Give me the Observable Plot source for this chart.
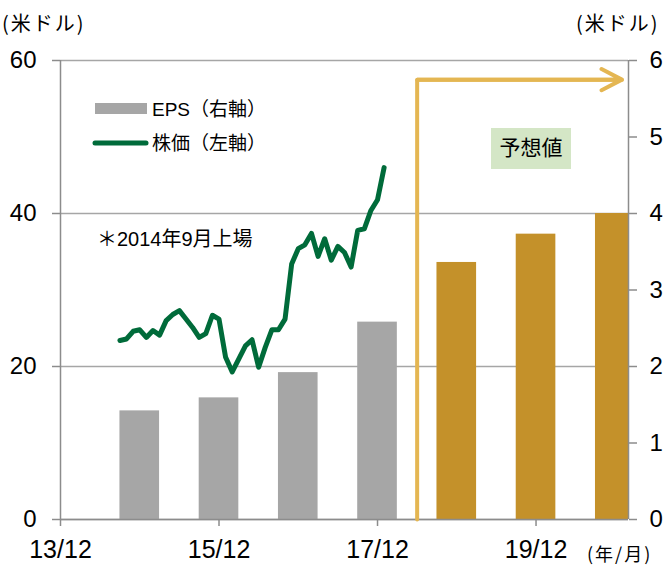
<!DOCTYPE html>
<html><head><meta charset="utf-8">
<script src="https://cdn.jsdelivr.net/npm/d3@7"></script>
<script src="https://cdn.jsdelivr.net/npm/@observablehq/plot@0.6"></script>
<style>body{margin:0;background:#fff} svg{display:block}</style>
</head><body><div id="chart"></div>
<script>
// ---- data ----
const years = ["14/12","15/12","16/12","17/12","18/12","19/12","20/12"];
const epsValues = [1.42,1.59,1.92,2.58,3.36,3.73,4.0];
const epsForecast = [false,false,false,false,true,true,true];
const priceStart = "14/09";
const priceValues = [23.4,23.6,24.6,24.8,23.8,24.7,24.1,26.0,26.8,27.3,26.2,25.1,23.8,24.3,26.7,26.2,21.2,19.3,21.0,22.7,23.5,19.9,22.5,24.8,24.8,26.2,33.4,35.4,35.9,37.4,34.4,36.7,33.9,35.7,34.9,33.0,37.8,38.0,40.4,41.8,46.0];
const xTickLabels = ["13/12","15/12","17/12","19/12"];
const leftTicks = [0,20,40,60];
const rightTicks = [0,1,2,3,4,5,6];
const forecastStart = "18/06";
const arrowEnd = "21/01";
const arrowLevel = 5.75; // right-axis units

// ---- helpers ----
const xOf = s => { const [yy,mm] = s.split("/").map(Number); return (2000+yy-2013)*12 + (mm-12); };
const eps = years.map((y,i)=>({x:xOf(y), eps:epsValues[i], forecast:epsForecast[i]}));
const price = priceValues.map((v,i)=>({x:xOf(priceStart)+i, price:v}));
const xTickPos = xTickLabels.map(xOf);
const ratio = 10; // left / right axis

const axisColor = "#8c8c8c", gridColor = "#a6a6a6";
const gray = "#a6a6a6", gold = "#c4912a", green = "#006b3a", arrowColor = "#e4b652";
const fontFam = "'Liberation Sans', Arial, 'Noto Sans CJK JP', sans-serif";
const cjkFam = "'Noto Sans CJK JP', sans-serif";

const fx = xOf(forecastStart), ax = xOf(arrowEnd), ay = arrowLevel*ratio;

const plot = Plot.plot({
  width:664, height:567,
  marginLeft:60, marginRight:36, marginTop:60, marginBottom:48,
  style:{fontFamily:fontFam, fontSize:"24px", color:"#000", background:"#fff", overflow:"hidden"},
  x:{domain:[0,86]},
  y:{domain:[0,60]},
  marks:[
    Plot.ruleY(leftTicks,{stroke:gridColor,strokeWidth:1.5}),
    Plot.rectY(eps.filter(d=>!d.forecast),{x1:d=>d.x-3,x2:d=>d.x+3,y:d=>d.eps*ratio,fill:gray,clip:true}),
    Plot.rectY(eps.filter(d=>d.forecast),{x1:d=>d.x-3,x2:d=>d.x+3,y:d=>d.eps*ratio,fill:gold,clip:true}),
    Plot.ruleX([0,86],{stroke:axisColor,strokeWidth:1.5}),
    Plot.ruleY([0],{stroke:axisColor,strokeWidth:1.5}),
    Plot.line([{x:fx,y:0},{x:fx,y:ay},{x:ax,y:ay}],{x:"x",y:"y",stroke:arrowColor,strokeWidth:4,strokeLinejoin:"miter"}),
    Plot.arrow([{x1:fx,x2:ax,y:ay}],{x1:"x1",x2:"x2",y1:"y",y2:"y",stroke:arrowColor,strokeWidth:4,headLength:8.6,headAngle:55}),
    Plot.line(price,{x:"x",y:"price",stroke:green,strokeWidth:5,strokeLinejoin:"round",strokeLinecap:"round"}),
    Plot.axisY(leftTicks,{anchor:"left",tickSize:8,tickPadding:16,fontSize:24,stroke:axisColor,strokeWidth:1.5}),
    Plot.axisY(rightTicks.map(t=>t*ratio),{anchor:"right",tickSize:8,tickPadding:13,fontSize:24,tickFormat:d=>String(d/ratio),stroke:axisColor,strokeWidth:1.5}),
    Plot.axisX(xTickPos,{anchor:"bottom",tickSize:7,tickPadding:14,fontSize:25,tickFormat:d=>xTickLabels[xTickPos.indexOf(d)],stroke:axisColor,strokeWidth:1.5})
  ]
});
document.getElementById("chart").appendChild(plot);

// ---- annotations (legend, notes, units) ----
const svg = d3.select(plot);
function txt(x,y,s,size,anchor="start",ls=0,fam=fontFam){
  svg.append("text").attr("x",x).attr("y",y).attr("dy","0.35em")
    .attr("font-size",size).attr("text-anchor",anchor)
    .attr("letter-spacing",ls)
    .attr("font-family",fam).attr("fill","#000").text(s);
}
txt(2,24,"(米ドル)",20,"start",2,cjkFam);
txt(576,24,"(米ドル)",20,"start",2,cjkFam);
txt(587,555,"(年/月)",18,"start",2,cjkFam);

svg.append("rect").attr("x",95).attr("y",103).attr("width",52).attr("height",11).attr("fill",gray);
txt(152,109,"EPS（右軸）",19);
svg.append("line").attr("x1",95).attr("x2",146).attr("y1",143).attr("y2",143)
  .attr("stroke",green).attr("stroke-width",5).attr("stroke-linecap","round");
txt(152,143,"株価（左軸）",19);
txt(97,239,"＊2014年9月上場",20);

svg.append("rect").attr("x",491).attr("y",128).attr("width",80).attr("height",41).attr("fill","#d4e6c6");
txt(531,148,"予想値",21,"middle");
</script>
</body></html>
